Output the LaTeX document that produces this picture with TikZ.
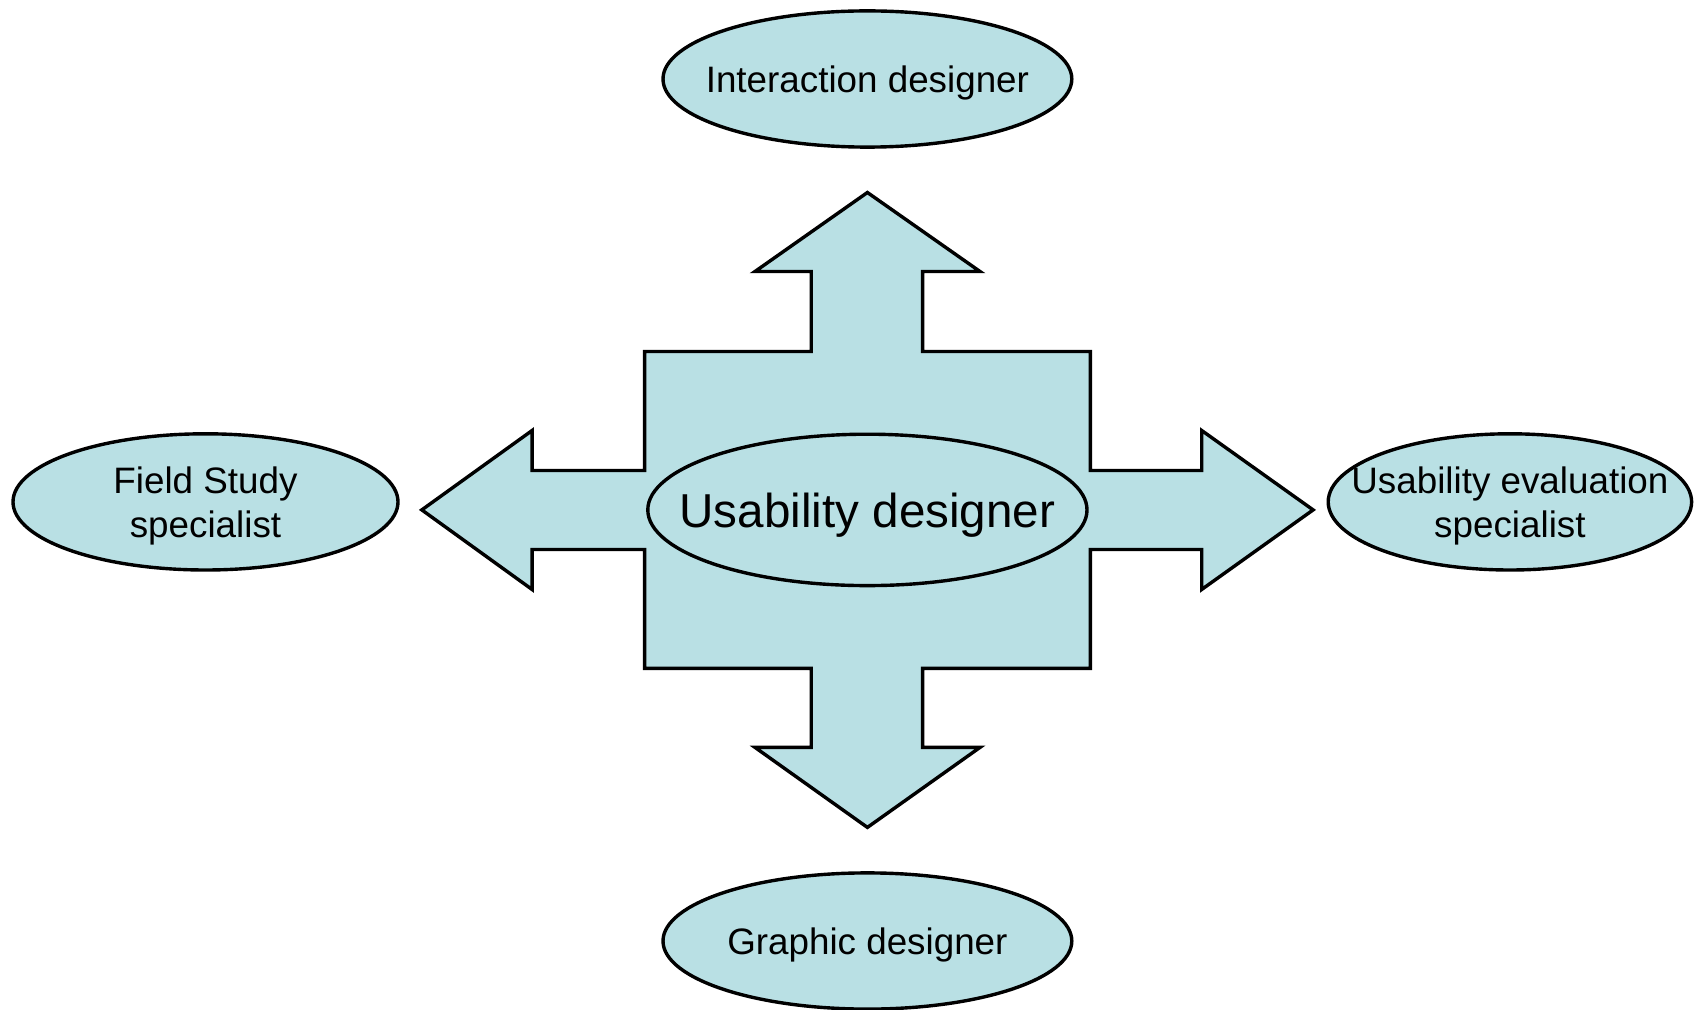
\documentclass[tikz,border=0pt]{standalone}
\usepackage{fontspec}
\setmainfont{Liberation Sans}
\usetikzlibrary{shapes.geometric}
\definecolor{fillc}{HTML}{B9E0E4}
\tikzset{
  oval/.style={ellipse, draw=black, line width=1.7pt, fill=fillc, inner sep=0pt},
  lbl/.style={font=\fontsize{18.4}{22}\selectfont, align=center, inner sep=0pt, yshift=-2.2pt},
  biglbl/.style={font=\fontsize{23.8}{28}\selectfont, align=center, inner sep=0pt, yshift=-2.4pt},
  cross/.style={draw=black, line width=1.7pt, fill=fillc, line join=miter}
}
\begin{document}
\begin{tikzpicture}[x=0.5pt, y=-0.5pt]
\useasboundingbox (0,0) rectangle (1696,1010);
% central cross with four arrows
\draw[cross] (867.4,192.5) -- (980,271.5) -- (922.6,271.5) -- (922.6,351.5) -- (1090.3,351.5)
  -- (1090.3,470.5) -- (1201.7,470.5) -- (1201.7,430.5) -- (1313.1,509.9) -- (1201.7,589.5) -- (1201.7,549.5)
  -- (1090.3,549.5) -- (1090.3,668.4) -- (922.6,668.4) -- (922.6,747.4) -- (980,747.4) -- (867.4,827.4)
  -- (755,747.4) -- (811.2,747.4) -- (811.2,668.4) -- (644.6,668.4) -- (644.6,549.5) -- (532.1,549.5)
  -- (532.1,589.5) -- (421.8,509.9) -- (532.1,430.5) -- (532.1,470.5) -- (644.6,470.5) -- (644.6,351.5)
  -- (811.2,351.5) -- (811.2,271.5) -- (755,271.5) -- cycle;
% ellipses
\node[oval, minimum width=408.8pt*0.5, minimum height=136.2pt*0.5] (inter) at (867.4,79) {};
\node[lbl] (intert) at (inter.center) {Interaction designer};
\node[oval, minimum width=439.2pt*0.5, minimum height=151.4pt*0.5] (usab) at (867.4,509.9) {};
\node[biglbl] (usabt) at (usab.center) {Usability designer};
\node[oval, minimum width=385pt*0.5, minimum height=136.2pt*0.5] (field) at (205.5,501.9) {};
\node[lbl] (fieldt) at (field.center) {Field Study\\specialist};
\node[oval, minimum width=363.4pt*0.5, minimum height=136.2pt*0.5] (eval) at (1509.9,501.9) {};
\node[lbl] (evalt) at (eval.center) {Usability evaluation\\specialist};
\node[oval, minimum width=408.8pt*0.5, minimum height=136.2pt*0.5] (graph) at (867.4,941) {};
\node[lbl] (grapht) at (graph.center) {Graphic designer};
\end{tikzpicture}
\end{document}
